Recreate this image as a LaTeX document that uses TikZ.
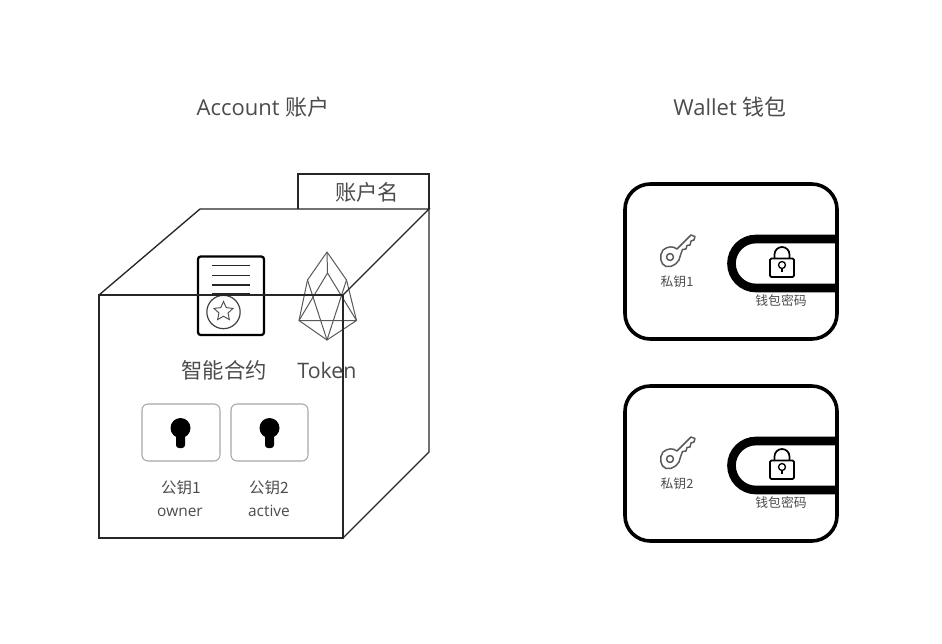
\documentclass[tikz,border=0pt]{standalone}
\usepackage{fontspec}
\setmainfont{Open Sans}
\newfontfamily\cjk{Noto Sans CJK SC}
\usetikzlibrary{shapes.geometric}
\definecolor{txt}{gray}{0.3}
\tikzset{
 x=0.75pt,y=-0.75pt,
 cubeline/.style={draw=black!85,line width=1pt,line join=miter},
 label/.style={text=txt,inner sep=0pt,align=center},
 title/.style={label,font=\fontsize{16.5}{19}\selectfont},
 midt/.style={label,font=\fontsize{16}{19}\selectfont},
 small/.style={label,font=\fontsize{11.6}{14}\selectfont},
 tiny/.style={label,font=\fontsize{9.6}{11}\selectfont},
 wallet/.style={draw=black,line width=2.7pt,rounded corners=19pt},
 clasp/.style={draw=black,line width=6.5pt},
 keybox/.style={draw=black!35,line width=0.8pt,rounded corners=4.5pt},
 tokenline/.style={draw=black!65,line width=0.75pt,line join=round},
 iconline/.style={draw=black!65,line width=1.1pt,line join=round},
}
\newcommand{\keyhole}[2]{%
 \fill[black] (#1,#2) circle[radius=7.5pt];
 \fill[black,rounded corners=2.2pt] (#1-4.5,#2) rectangle (#1+4.5,#2+20);
}
\newcommand{\walletshape}[1]{%
 \begin{scope}[yshift=-#1*0.75pt]
 \draw[wallet] (625,184) rectangle (837,339);
 \draw[clasp] (836,239) -- (756,239) arc[start angle=90,end angle=270,x radius=24.5,y radius=-24.5] -- (836,288);
 % lock
 \draw[draw=black,line width=1.3pt,rounded corners=1pt] (770,258.5) rectangle (794,277);
 \draw[draw=black,line width=1.3pt] (774.5,258.5) -- (774.5,254.5) arc[start angle=180,end angle=0,x radius=7.5,y radius=-7.5] -- (789.5,258.5);
 \draw[draw=black,line width=1pt] (782,265) circle[radius=2.6pt];
 \draw[draw=black,line width=1pt] (782,268) -- (782,272);
 % key
 \draw[iconline] (670,257) circle[radius=2.6pt];
 \draw[iconline] (663,250) .. controls (668,246) and (673,246) .. (677,249)
   -- (691,235) -- (695,236.5) -- (694,240) -- (691,241) -- (690,245) -- (687,245.5) -- (686,249) -- (682.5,249.5) -- (680.5,255)
   .. controls (680,262) and (673,268) .. (666,266.5)
   .. controls (660,264.5) and (659,255) .. (663,250) -- cycle;
 \end{scope}
}
\begin{document}
\begin{tikzpicture}
\useasboundingbox (0,0) rectangle (942,643);
\fill[white] (0,0) rectangle (942,643);
% titles
\node[title] (acct) at (263,107) {Account {\cjk 账户}};
\node[title] (wall) at (730,107) {Wallet {\cjk 钱包}};
% doc icon
\draw[draw=black,line width=1.7pt,rounded corners=2pt] (198,256.5) rectangle (264,335);
\foreach \yy in {265.5,275.5,285,294}{\draw[draw=black!85,line width=1.1pt] (212,\yy) -- (250,\yy);}
\draw[draw=black!75,line width=0.9pt] (223.5,312) circle[radius=12.5pt];
\node[star,star points=5,star point ratio=2.1,draw=black!70,line width=0.7pt,minimum size=15pt,inner sep=0pt] (star) at (223.5,311.5) {};
% token
\coordinate (T) at (327,252);\coordinate (UL) at (307.5,280);\coordinate (UR) at (346.5,280);
\coordinate (L) at (299,320.5);\coordinate (R) at (356.5,320.5);\coordinate (B) at (327,340);\coordinate (I) at (327.5,273);
\draw[tokenline] (T)--(UL)--(L)--(B)--(R)--(UR)--cycle;
\draw[tokenline] (T)--(I)--(L)--(R)--(I);
\draw[tokenline] (UL)--(B)--(UR);
% cube
\draw[cubeline] (99,295) rectangle (343,538);
\draw[cubeline] (99,295) -- (200,209) -- (429,209) -- (343,295);
\draw[cubeline] (429,209) -- (429,452) -- (343,538);
\draw[cubeline] (298,209) -- (298,174) -- (429,174) -- (429,209);
\node[midt] (name) at (367,192) {\cjk 账户名};
\node[midt] (sc) at (224,370) {\cjk 智能合约};
\node[midt] (tok) at (327,370) {Token};
% key boxes
\draw[keybox] (142,404) rectangle (220,461);
\draw[keybox] (231,404) rectangle (308,461);
\keyhole{180.5}{428}
\keyhole{269.5}{428}
\node[small] (k1) at (181,488) {\cjk 公钥1};
\node[small] (k2) at (269,488) {\cjk 公钥2};
\node[small,anchor=base] (o) at (180,516) {owner};
\node[small,anchor=base] (a) at (269,516) {active};
% wallets
\walletshape{0}
\walletshape{202}
\node[tiny] (p1) at (677,282) {\cjk 私钥1};
\node[tiny] (p2) at (677,484) {\cjk 私钥2};
\node[tiny] (w1) at (781,301) {\cjk 钱包密码};
\node[tiny] (w2) at (781,503) {\cjk 钱包密码};
\end{tikzpicture}
\end{document}
